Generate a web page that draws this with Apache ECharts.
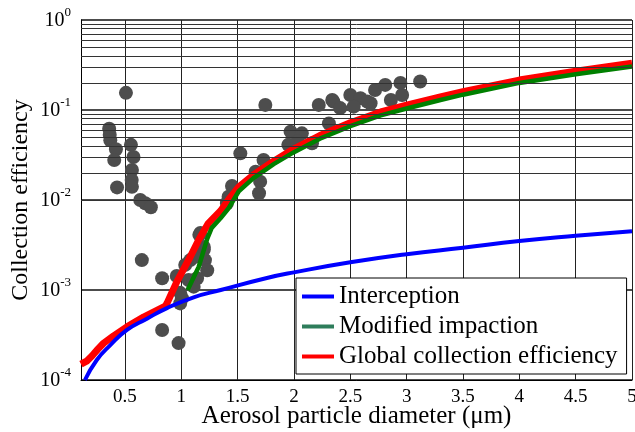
<!DOCTYPE html>
<html>
<head>
<meta charset="utf-8">
<script src="https://cdn.jsdelivr.net/npm/echarts@6/dist/echarts.min.js"></script>
<style>html,body{margin:0;padding:0;background:#fff}#c{width:635px;height:432px}</style>
</head>
<body>
<div id="c"></div>
<script>
const interceptionX = [0.145, 0.25, 0.37, 0.518, 0.695, 0.873, 1.11, 1.35, 1.76, 2.0, 2.5, 3.0, 3.5, 4.0, 4.5, 5.0];
const interceptionY = [1.0e-4, 1.67e-4, 2.44e-4, 3.6e-4, 4.8e-4, 6.3e-4, 8.3e-4, 1.0e-3, 1.36e-3, 1.57e-3, 2.03e-3, 2.5e-3, 2.95e-3, 3.5e-3, 4.0e-3, 4.5e-3];

const impactionX = [1.056, 1.154, 1.23, 1.27, 1.35, 1.42, 1.51, 1.64, 1.82, 2.0, 2.23, 2.5, 2.77, 3.0, 3.3, 3.5, 4.0, 4.5, 5.0];
const impactionY = [1.0e-3, 1.8e-3, 3.7e-3, 4.9e-3, 6.3e-3, 8.1e-3, 1.25e-2, 1.75e-2, 2.5e-2, 3.4e-2, 4.8e-2, 6.6e-2, 8.7e-2, 0.104, 0.129, 0.148, 0.2, 0.25, 0.305];

const globalX = [0.11, 0.16, 0.207, 0.26, 0.31, 0.4, 0.518, 0.665, 0.858, 0.873, 0.96, 1.08, 1.154, 1.24, 1.35, 1.43, 1.51, 1.64, 1.82, 2.0, 2.23, 2.5, 2.77, 3.0, 3.3, 3.5, 4.0, 4.5, 5.0];
const globalY = [1.5e-4, 1.62e-4, 1.85e-4, 2.2e-4, 2.56e-4, 3.1e-4, 3.9e-4, 5.0e-4, 6.6e-4, 7.1e-4, 1.23e-3, 2.34e-3, 3.6e-3, 5.5e-3, 7.6e-3, 1.05e-2, 1.4e-2, 1.9e-2, 2.7e-2, 3.7e-2, 5.2e-2, 7.2e-2, 9.5e-2, 0.113, 0.14, 0.16, 0.215, 0.27, 0.33];

const measuredX = [0.509, 0.36, 0.365, 0.37, 0.42, 0.405, 0.553, 0.576, 0.562, 0.56, 0.562, 0.43, 0.636, 0.68, 0.73,
  0.65, 0.83, 0.96, 0.83, 0.976,
  1.16, 1.08, 1.21, 1.035, 1.23, 1.14, 1.11, 1.006, 0.99, 1.065, 1.2, 1.12, 0.99, 1.17, 1.2,
  1.746, 1.524, 1.45, 1.42, 1.405, 1.73, 1.66, 1.70, 1.69,
  1.97, 2.07, 1.95, 2.16, 2.03, 2.22, 2.35, 2.31,
  2.34, 2.41, 2.5, 2.59, 2.53, 2.68, 2.72, 2.81, 2.945, 2.96, 2.86, 2.65, 3.12];
const measuredY = [0.155, 0.062, 0.053, 0.046, 0.0366, 0.0278, 0.041, 0.030, 0.0216, 0.0167, 0.014, 0.0138, 0.010, 0.0092, 0.0083,
  0.00215, 0.00135, 0.00143, 0.00036, 0.000257,
  0.0041, 0.00215, 0.00215, 0.0019, 0.00166, 0.00135, 0.00109, 0.00081, 0.00071, 0.00129, 0.0028, 0.00234, 0.00093, 0.0043, 0.003,
  0.114, 0.033, 0.0143, 0.0109, 0.0092, 0.0278, 0.0206, 0.016, 0.0119,
  0.0575, 0.055, 0.041, 0.0426, 0.0446, 0.114, 0.124, 0.071,
  0.129, 0.105, 0.147, 0.135, 0.109, 0.119, 0.167, 0.19, 0.2, 0.147, 0.129, 0.124, 0.207];

const xMin = 0.11, xMax = 5;
const yMin = 1e-4, yMax = 1;
const seriesNames = ['Interception', 'Modified impaction', 'Global collection efficiency'];

// minor log grid lines (2..9 x 10^k)
const minorY = [];
for (let e = -4; e < 0; e++) {
  for (let m = 2; m <= 9; m++) minorY.push(m * Math.pow(10, e));
}

const zip = (xs, ys) => xs.map((x, i) => [x, ys[i]]);
const FONT = '"Liberation Serif", "Times New Roman", serif';

const chart = echarts.init(document.getElementById('c'));
chart.setOption({
  animation: false,
  grid: { left: 81, right: 3, top: 20, bottom: 52, containLabel: false, outerBoundsMode: 'none' },
  xAxis: {
    type: 'value', min: xMin, max: xMax, splitNumber: 10,
    name: 'Aerosol particle diameter (\u03bcm)', nameLocation: 'middle', nameGap: 24, nameMoveOverlap: false,
    nameTextStyle: { fontFamily: FONT, fontSize: 25, color: '#000' },
    axisLine: { show: true, lineStyle: { color: '#000', width: 1 } },
    axisTick: { show: false },
    axisLabel: { fontFamily: FONT, fontSize: 19, color: '#000', margin: 8, showMinLabel: false },
    splitLine: { show: true, lineStyle: { color: '#222', width: 1 } }
  },
  yAxis: {
    type: 'log', logBase: 10, min: yMin, max: yMax,
    name: 'Collection efficiency', nameLocation: 'middle', nameGap: 48, nameMoveOverlap: false,
    nameTextStyle: { fontFamily: FONT, fontSize: 24, color: '#000' },
    axisLine: { show: true, lineStyle: { color: '#000', width: 1 } },
    axisTick: { show: false },
    axisLabel: {
      margin: 10,
      formatter: v => '{b|10}{s|' + Math.round(Math.log10(v)) + '}',
      rich: {
        b: { fontFamily: FONT, fontSize: 20, color: '#000', verticalAlign: 'bottom', lineHeight: 22 },
        s: { fontFamily: FONT, fontSize: 13, color: '#000', verticalAlign: 'bottom', lineHeight: 13, padding: [0, 0, 12, 0] }
      }
    },
    splitLine: { show: true, lineStyle: { color: '#111', width: 1.5 } }
  },
  legend: {
    data: seriesNames, orient: 'vertical', left: 296, top: 278,
    backgroundColor: '#fff', borderColor: '#000', borderWidth: 1,
    padding: [6, 9, 5, 6], itemGap: 5, itemWidth: 32, itemHeight: 4, icon: 'rect',
    textStyle: { fontFamily: FONT, fontSize: 25, color: '#000' }
  },
  series: [
    {
      type: 'line', name: 'grid', silent: true, data: [], z: 1,
      markLine: {
        silent: true, symbol: 'none', label: { show: false },
        lineStyle: { color: '#333', width: 1, type: 'solid' },
        data: minorY.map(v => ({ yAxis: v }))
      }
    },
    {
      type: 'scatter', name: 'Measured', data: zip(measuredX, measuredY), z: 2,
      symbolSize: 14, itemStyle: { color: '#4d4d4d', opacity: 1 }
    },
    {
      type: 'line', name: seriesNames[2], data: zip(globalX, globalY), z: 3,
      showSymbol: false, smooth: false, lineStyle: { color: '#ff0000', width: 7 }, itemStyle: { color: '#ff0000' }
    },
    {
      type: 'line', name: seriesNames[1], data: zip(impactionX, impactionY), z: 4,
      showSymbol: false, lineStyle: { color: '#008000', width: 4.5 }, itemStyle: { color: '#2e7d5b' }
    },
    {
      type: 'line', name: seriesNames[0], data: zip(interceptionX, interceptionY), z: 5,
      showSymbol: false, smooth: true, lineStyle: { color: '#0000ff', width: 4 }, itemStyle: { color: '#0000ff' }
    }
  ]
});
</script>
</body>
</html>
